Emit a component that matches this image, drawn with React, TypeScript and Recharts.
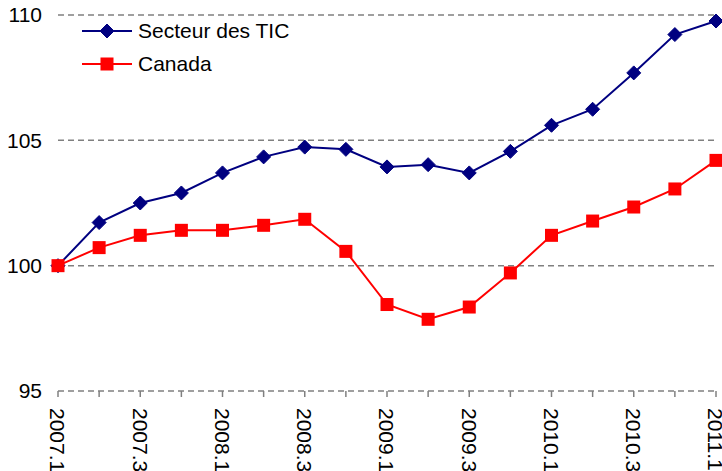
import { LineChart, Line, XAxis, YAxis, CartesianGrid, Legend } from "recharts";

const CATEGORIES = [
  "2007.1", "2007.2", "2007.3", "2007.4",
  "2008.1", "2008.2", "2008.3", "2008.4",
  "2009.1", "2009.2", "2009.3", "2009.4",
  "2010.1", "2010.2", "2010.3", "2010.4",
  "2011.1",
];

const TIC = [
  100, 101.72, 102.5, 102.9, 103.7, 104.34, 104.73, 104.64, 103.94,
  104.03, 103.7, 104.56, 105.6, 106.24, 107.69, 109.22, 109.76,
];

const CANADA = [
  100, 100.72, 101.21, 101.41, 101.41, 101.61, 101.85, 100.57, 98.45,
  97.86, 98.35, 99.71, 101.21, 101.78, 102.34, 103.06, 104.2,
];

const Y_TICKS = [95, 100, 105, 110];

const FONT = '"Liberation Sans", Arial, sans-serif';
const BLUE = "#000080";
const RED = "#FF0000";

const data = CATEGORIES.map((q, i) => ({ q, tic: TIC[i], canada: CANADA[i] }));

const Diamond = ({ cx, cy, size = 7 }: any) => (
  <polygon
    points={`${cx},${cy - size} ${cx + size},${cy} ${cx},${cy + size} ${cx - size},${cy}`}
    fill={BLUE}
    stroke={BLUE}
  />
);

const Square = ({ cx, cy, size = 6.5 }: any) => (
  <rect x={cx - size} y={cy - size} width={size * 2} height={size * 2} fill={RED} />
);

const diamondDot = (props: any) => <Diamond key={`d-${props.index}`} cx={props.cx} cy={props.cy} />;
const squareDot = (props: any) => <Square key={`s-${props.index}`} cx={props.cx} cy={props.cy} />;

// only every other quarter gets a label, ticks stay on all of them
const QuarterTick = ({ x, y, payload, index }: any) => {
  if (index % 2 !== 0) return <g />;
  return (
    <g transform={`translate(${x},${y})`}>
      <text
        transform="rotate(90)"
        x={0}
        y={0}
        dy="0.36em"
        textAnchor="start"
        fill="#000"
        fontSize={21}
        fontFamily={FONT}
      >
        {payload.value}
      </text>
    </g>
  );
};

const LEGEND_ITEMS = [
  { name: "Secteur des TIC", color: BLUE, marker: "diamond" },
  { name: "Canada", color: RED, marker: "square" },
];

const renderLegend = () => (
  <div style={{ fontFamily: FONT, fontSize: 21, color: "#000" }}>
    {LEGEND_ITEMS.map((item) => (
      <div key={item.name} style={{ display: "flex", alignItems: "center", height: 33 }}>
        <svg width={56} height={20} style={{ display: "block" }}>
          <line x1={0} y1={10} x2={50} y2={10} stroke={item.color} strokeWidth={2} />
          {item.marker === "diamond" ? <Diamond cx={25} cy={10} /> : <Square cx={25} cy={10} />}
        </svg>
        <span style={{ lineHeight: "33px" }}>{item.name}</span>
      </div>
    ))}
  </div>
);

export default function App() {
  return (
    <div style={{ position: "absolute", left: 0, top: 0, width: 722, height: 471, background: "#fff" }}>
      <LineChart width={722} height={471} data={data} margin={{ top: 15, right: 6, bottom: 0, left: 0 }}>
        <CartesianGrid vertical={false} stroke="#808080" strokeDasharray="6 4" strokeWidth={1.5} />
        <XAxis
          dataKey="q"
          interval={0}
          height={80}
          axisLine={false}
          tickSize={6}
          tickMargin={11}
          tickLine={{ stroke: "#808080", strokeWidth: 1.5 }}
          tick={<QuarterTick />}
        />
        <YAxis
          domain={[95, 110]}
          ticks={Y_TICKS}
          width={58}
          axisLine={false}
          tickLine={false}
          tickSize={0}
          tickMargin={16}
          tick={{ fill: "#000", fontSize: 21, fontFamily: FONT }}
        />
        <Legend
          layout="vertical"
          align="center"
          verticalAlign="middle"
          content={renderLegend}
          wrapperStyle={{ left: 82, top: 14, width: 260 }}
        />
        <Line
          dataKey="tic"
          name="Secteur des TIC"
          stroke={BLUE}
          strokeWidth={2}
          dot={diamondDot}
          activeDot={false}
          isAnimationActive={false}
        />
        <Line
          dataKey="canada"
          name="Canada"
          stroke={RED}
          strokeWidth={2}
          dot={squareDot}
          activeDot={false}
          isAnimationActive={false}
        />
      </LineChart>
    </div>
  );
}
